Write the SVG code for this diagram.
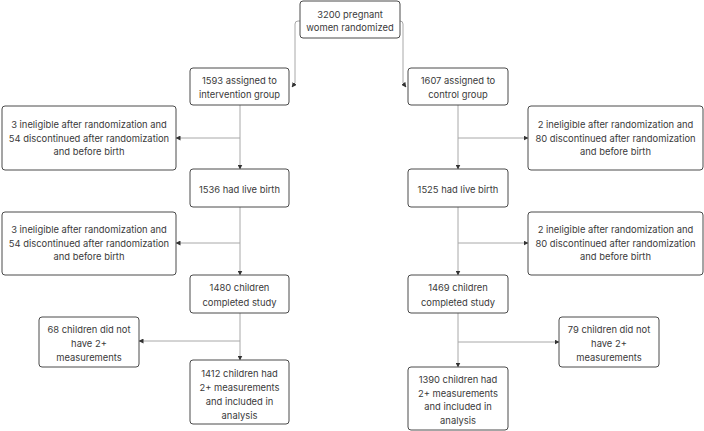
<svg xmlns="http://www.w3.org/2000/svg" width="704" height="431" viewBox="0 0 704 431">
<defs>
<style>
.box{fill:#fff;stroke:#4a4a4a;stroke-width:1;}
.t{font-family:Inter,"Liberation Sans",sans-serif;font-size:9.4px;fill:#3a3a3a;text-anchor:middle;dominant-baseline:central;}
.c{fill:none;stroke:#a8a8a8;stroke-width:1;}
</style>
<marker id="ah" viewBox="0 0 10 10" refX="9" refY="5" markerWidth="5" markerHeight="5" orient="auto" markerUnits="userSpaceOnUse">
<path d="M0,0 L10,5 L0,10 Z" fill="#333"/>
</marker>
</defs>
<rect width="704" height="431" fill="#fff"/>
<g id="connectors">
<path class="c" d="M300,21 H298 Q295,21 295,24 V83 L292,87" marker-end="url(#ah)"/>
<path class="c" d="M400,21 H400 Q403,21 403,24 V83 L406,87" marker-end="url(#ah)"/>
<path class="c" d="M240,105 V169" marker-end="url(#ah)"/>
<path class="c" d="M240,138 H176" marker-end="url(#ah)"/>
<path class="c" d="M240,207 V275" marker-end="url(#ah)"/>
<path class="c" d="M240,243 H176" marker-end="url(#ah)"/>
<path class="c" d="M240,313 V360" marker-end="url(#ah)"/>
<path class="c" d="M240,341 H139" marker-end="url(#ah)"/>
<path class="c" d="M458,105 V169" marker-end="url(#ah)"/>
<path class="c" d="M458,138 H528" marker-end="url(#ah)"/>
<path class="c" d="M458,207 V275" marker-end="url(#ah)"/>
<path class="c" d="M458,243 H528" marker-end="url(#ah)"/>
<path class="c" d="M458,313 V367" marker-end="url(#ah)"/>
<path class="c" d="M458,342 H559" marker-end="url(#ah)"/>
</g>
<g id="n0"><rect class="box" x="300" y="1" width="100" height="37" rx="3"/>
<text class="t" x="350" y="14.5">3200 pregnant</text><text class="t" x="350" y="27.5">women randomized</text></g>
<g id="n1"><rect class="box" x="190" y="68" width="99" height="37" rx="3"/>
<text class="t" x="239.5" y="80">1593 assigned to</text><text class="t" x="239.5" y="94">intervention group</text></g>
<g id="n2"><rect class="box" x="408" y="68" width="100" height="37" rx="3"/>
<text class="t" x="458" y="80">1607 assigned to</text><text class="t" x="458" y="94">control group</text></g>
<g id="n3"><rect class="box" x="2" y="106" width="174" height="64" rx="3"/>
<text class="t" x="89" y="124.3">3 ineligible after randomization and</text><text class="t" x="89" y="138">54 discontinued after randomization</text><text class="t" x="89" y="151.7">and before birth</text></g>
<g id="n4"><rect class="box" x="190" y="169" width="99" height="38" rx="3"/>
<text class="t" x="239.5" y="189">1536 had live birth</text></g>
<g id="n5"><rect class="box" x="2" y="212" width="174" height="63" rx="3"/>
<text class="t" x="89" y="229.3">3 ineligible after randomization and</text><text class="t" x="89" y="243.3">54 discontinued after randomization</text><text class="t" x="89" y="256.7">and before birth</text></g>
<g id="n6"><rect class="box" x="528" y="106" width="175" height="64" rx="3"/>
<text class="t" x="615.5" y="124.3">2 ineligible after randomization and</text><text class="t" x="615.5" y="138">80 discontinued after randomization</text><text class="t" x="615.5" y="151.7">and before birth</text></g>
<g id="n7"><rect class="box" x="408" y="169" width="100" height="38" rx="3"/>
<text class="t" x="458" y="189">1525 had live birth</text></g>
<g id="n8"><rect class="box" x="528" y="212" width="175" height="63" rx="3"/>
<text class="t" x="615.5" y="229.3">2 ineligible after randomization and</text><text class="t" x="615.5" y="243.3">80 discontinued after randomization</text><text class="t" x="615.5" y="256.7">and before birth</text></g>
<g id="n9"><rect class="box" x="190" y="275" width="99" height="38" rx="3"/>
<text class="t" x="239.5" y="287.7">1480 children</text><text class="t" x="239.5" y="302">completed study</text></g>
<g id="n10"><rect class="box" x="39" y="317" width="100" height="50" rx="3"/>
<text class="t" x="89" y="329.3">68 children did not</text><text class="t" x="89" y="343.3">have 2+</text><text class="t" x="89" y="357.3">measurements</text></g>
<g id="n11"><rect class="box" x="190" y="360" width="99" height="64" rx="3"/>
<text class="t" x="239.5" y="373.3">1412 children had</text><text class="t" x="239.5" y="387.3">2+ measurements</text><text class="t" x="239.5" y="401.3">and included in</text><text class="t" x="239.5" y="415.3">analysis</text></g>
<g id="n12"><rect class="box" x="408" y="275" width="100" height="38" rx="3"/>
<text class="t" x="458" y="287.7">1469 children</text><text class="t" x="458" y="302">completed study</text></g>
<g id="n13"><rect class="box" x="559" y="317" width="100" height="50" rx="3"/>
<text class="t" x="609" y="329.3">79 children did not</text><text class="t" x="609" y="343.3">have 2+</text><text class="t" x="609" y="357.3">measurements</text></g>
<g id="n14"><rect class="box" x="408" y="367" width="100" height="63" rx="3"/>
<text class="t" x="458" y="379">1390 children had</text><text class="t" x="458" y="393">2+ measurements</text><text class="t" x="458" y="406.7">and included in</text><text class="t" x="458" y="420.7">analysis</text></g>
</svg>
